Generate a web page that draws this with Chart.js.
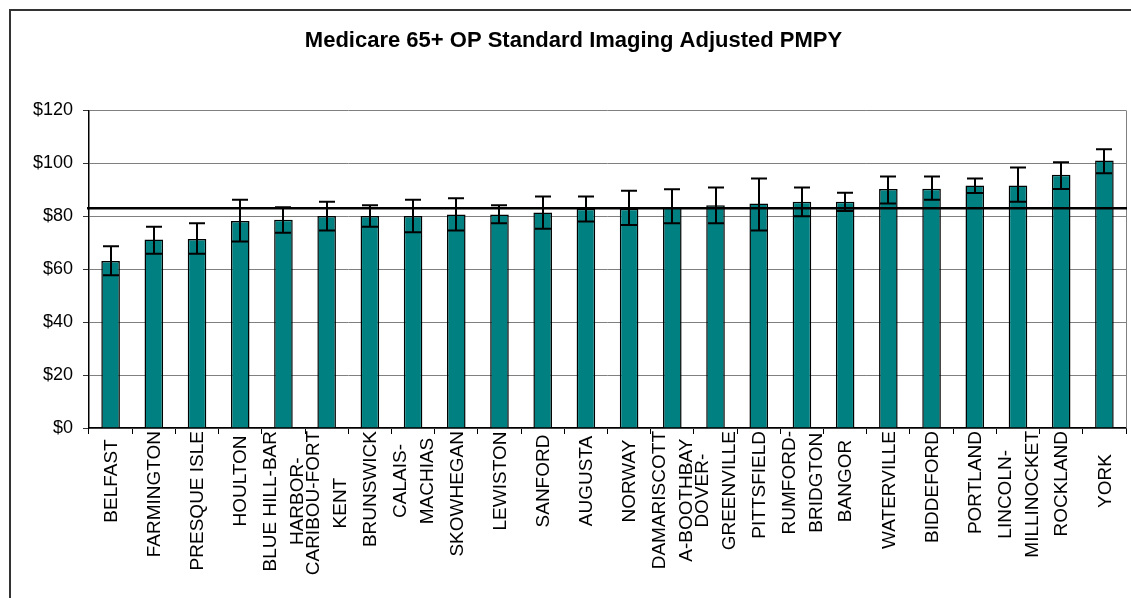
<!DOCTYPE html>
<html>
<head>
<meta charset="utf-8">
<script src="https://cdn.jsdelivr.net/npm/chart.js@4"></script>
<style>
  html, body { margin: 0; padding: 0; background: #fff; overflow: hidden; width: 1131px; height: 598px; }
  #frame { position: absolute; left: 9px; top: 9px; width: 1300px; height: 800px; border: 2px solid #333; box-sizing: border-box; }
  #wrap { position: absolute; left: 21px; top: 0; width: 1110px; height: 598px; }
</style>
</head>
<body>
<div id="frame"></div>
<div id="wrap"><canvas id="c" width="1110" height="598"></canvas></div>
<script>
// ---- data ----
const categories = [
  ["BELFAST"], ["FARMINGTON"], ["PRESQUE ISLE"], ["HOULTON"],
  ["BLUE HILL-BAR", "HARBOR-"], ["CARIBOU-FORT", "KENT"], ["BRUNSWICK"],
  ["CALAIS-", "MACHIAS"], ["SKOWHEGAN"], ["LEWISTON"], ["SANFORD"], ["AUGUSTA"],
  ["NORWAY"], ["DAMARISCOTT", "A-BOOTHBAY"], ["DOVER-", "GREENVILLE"], ["PITTSFIELD"],
  ["RUMFORD-", "BRIDGTON"], ["BANGOR"], ["WATERVILLE"], ["BIDDEFORD"], ["PORTLAND"],
  ["LINCOLN-", "MILLINOCKET"], ["ROCKLAND"], ["YORK"]
];
const pmpyValues = [63.1, 71.2, 71.4, 78.2, 78.7, 80.1, 80.1, 80.1, 80.7, 80.7, 81.4, 82.8,
                    82.8, 83.4, 84.2, 84.8, 85.5, 85.5, 90.3, 90.4, 91.6, 91.6, 95.7, 101.1];
const ciLower = [57.7, 65.8, 65.8, 70.5, 73.8, 74.6, 76.0, 74.0, 74.6, 77.4, 75.3, 78.0,
                 76.7, 77.4, 77.4, 74.6, 80.0, 82.0, 84.8, 86.2, 88.8, 85.5, 90.3, 96.3];
const ciUpper = [68.7, 76.0, 77.4, 86.2, 83.4, 85.5, 84.2, 86.2, 86.8, 84.2, 87.5, 87.5,
                 89.6, 90.2, 90.9, 94.3, 90.9, 88.9, 95.0, 95.0, 94.3, 98.4, 100.4, 105.3];
const benchmark = 83.0;
const yTicks = [0, 20, 40, 60, 80, 100, 120];
const titleText = "Medicare 65+ OP Standard Imaging Adjusted PMPY";

const FONT = '"Liberation Sans", Arial, Helvetica, sans-serif';

const overlayPlugin = {
  id: 'overlay',
  afterDatasetsDraw(chart) {
    const ctx = chart.ctx, x = chart.scales.x, y = chart.scales.y, ca = chart.chartArea;
    ctx.save();
    // plot area right border
    ctx.strokeStyle = '#808080'; ctx.lineWidth = 1;
    ctx.beginPath(); ctx.moveTo(Math.round(ca.right) + 0.5, ca.top); ctx.lineTo(Math.round(ca.right) + 0.5, ca.bottom); ctx.stroke();
    // benchmark line
    const by = y.getPixelForValue(benchmark);
    ctx.strokeStyle = '#000'; ctx.lineWidth = 2.5;
    ctx.beginPath(); ctx.moveTo(ca.left - 2, by); ctx.lineTo(ca.right + 1, by); ctx.stroke();
    // error bars
    ctx.lineWidth = 2;
    const meta = chart.getDatasetMeta(0);
    meta.data.forEach((bar, i) => {
      const cx = Math.round(bar.x);
      const yh = y.getPixelForValue(ciUpper[i]);
      const yl = y.getPixelForValue(ciLower[i]);
      ctx.beginPath();
      ctx.moveTo(cx, yh); ctx.lineTo(cx, yl);
      ctx.moveTo(cx - 8, yh); ctx.lineTo(cx + 8, yh);
      ctx.moveTo(cx - 8, yl); ctx.lineTo(cx + 8, yl);
      ctx.stroke();
    });
    ctx.restore();
  },
  afterDraw(chart) {
    const ctx = chart.ctx, xs = chart.scales.x;
    ctx.save();
    ctx.font = '19px ' + FONT;
    ctx.fillStyle = '#000';
    const gap = 27, C0 = 481, T0 = 431;
    categories.forEach((lines, i) => {
      const px = xs.getPixelForValue(i);
      const maxLen = Math.max(...lines.map(l => ctx.measureText(l).width));
      const cy = Math.max(C0, T0 + maxLen / 2);
      lines.forEach((l, j) => {
        const lx = px + (j - (lines.length - 1) / 2) * gap;
        ctx.save();
        ctx.translate(lx, cy);
        ctx.rotate(-Math.PI / 2);
        ctx.textAlign = 'center';
        ctx.textBaseline = 'middle';
        ctx.fillText(l, 0, 1);
        ctx.restore();
      });
    });
    ctx.restore();
  }
};

new Chart(document.getElementById('c'), {
  type: 'bar',
  data: {
    labels: categories,
    datasets: [{
      data: pmpyValues,
      backgroundColor: '#008080',
      borderColor: '#000',
      borderWidth: 1.5,
      barPercentage: 0.43,
      categoryPercentage: 1.0
    }]
  },
  options: {
    responsive: false,
    animation: false,
    events: [],
    layout: { padding: { left: 0, right: 5, top: 0, bottom: 0 } },
    plugins: {
      legend: { display: false },
      tooltip: { enabled: false },
      title: {
        display: true,
        text: titleText,
        color: '#000',
        font: { family: FONT, size: 22, weight: 'bold' },
        padding: { top: 28, bottom: 56 }
      }
    },
    scales: {
      x: {
        ticks: { display: false },
        grid: { display: true, drawOnChartArea: false, drawTicks: true, tickLength: 6, color: '#000', offset: true },
        border: { display: true, color: '#000', width: 1.5 },
        afterFit(scale) { scale.height = 170; }
      },
      y: {
        min: 0, max: 120,
        afterBuildTicks(scale) { scale.ticks = yTicks.map(v => ({ value: v })); },
        ticks: {
          color: '#000',
          font: { family: FONT, size: 18 },
          padding: 10,
          callback: v => '$' + v
        },
        grid: { color: '#808080', lineWidth: 1, tickLength: 6, tickColor: '#333' },
        border: { display: true, color: '#000', width: 1.5 },
        afterFit(scale) { scale.width = 68; }
      }
    }
  },
  plugins: [overlayPlugin]
});
</script>
</body>
</html>
